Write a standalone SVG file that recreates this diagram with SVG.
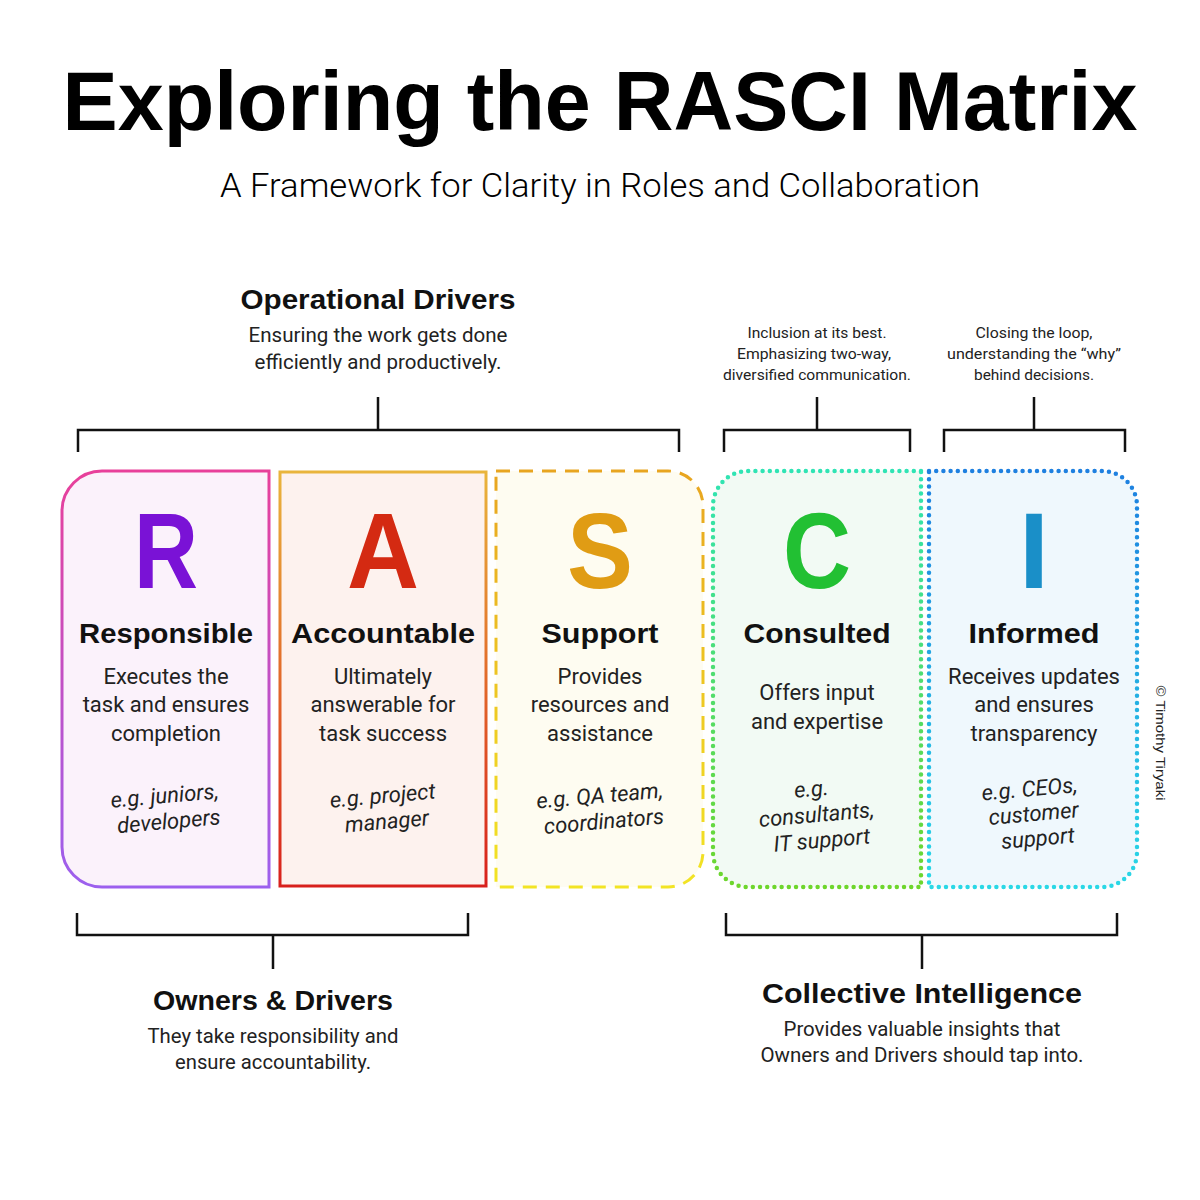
<svg xmlns="http://www.w3.org/2000/svg" width="1200" height="1200" viewBox="0 0 1200 1200">
<style>
.title{font-family:"Liberation Sans",Arial,sans-serif;font-weight:bold;fill:#000;text-anchor:middle}
.sub{font-family:Roboto,"Liberation Sans",sans-serif;font-weight:300;fill:#000;text-anchor:middle}
.h{font-family:"Liberation Sans",Arial,sans-serif;font-weight:bold;font-size:28px;fill:#111;text-anchor:middle}
.gh{font-family:"Liberation Sans",Arial,sans-serif;font-weight:bold;font-size:27px;fill:#111;text-anchor:middle}
.b{font-family:Roboto,"Liberation Sans",sans-serif;font-size:22px;fill:#222;text-anchor:middle}
.gb{font-family:Roboto,"Liberation Sans",sans-serif;font-size:20px;fill:#222;text-anchor:middle}
.s{font-family:Roboto,"Liberation Sans",sans-serif;font-size:15px;fill:#222;text-anchor:middle}
.i{font-family:Roboto,"Liberation Sans",sans-serif;font-style:italic;font-size:22px;fill:#222;text-anchor:middle}
.big{font-family:"Liberation Sans",Arial,sans-serif;font-weight:bold;font-size:108px;text-anchor:middle}
.br{fill:none;stroke:#111;stroke-width:2.5}
.box{stroke-width:3}
.dot{stroke-width:4.5;stroke-dasharray:0 7.2;stroke-linecap:round}
</style>
<defs>
<linearGradient id="gR" gradientUnits="userSpaceOnUse" x1="0" y1="471" x2="0" y2="887"><stop offset="0" stop-color="#e8409a"/><stop offset="1" stop-color="#9c60ee"/></linearGradient>
<linearGradient id="gA" gradientUnits="userSpaceOnUse" x1="0" y1="471" x2="0" y2="887"><stop offset="0" stop-color="#e9b53c"/><stop offset="0.5" stop-color="#e26a2a"/><stop offset="1" stop-color="#d8201c"/></linearGradient>
<linearGradient id="gS" gradientUnits="userSpaceOnUse" x1="0" y1="471" x2="0" y2="887"><stop offset="0" stop-color="#e8a520"/><stop offset="1" stop-color="#f2e424"/></linearGradient>
<linearGradient id="gC" gradientUnits="userSpaceOnUse" x1="0" y1="471" x2="0" y2="887"><stop offset="0" stop-color="#30e4b4"/><stop offset="1" stop-color="#6ed62c"/></linearGradient>
<linearGradient id="gI" gradientUnits="userSpaceOnUse" x1="0" y1="471" x2="0" y2="887"><stop offset="0" stop-color="#1e80e0"/><stop offset="1" stop-color="#2ad8e6"/></linearGradient>
</defs>
<rect width="1200" height="1200" fill="#fff"/>

<text class="title" x="600" y="130" font-size="83" textLength="1075" lengthAdjust="spacingAndGlyphs">Exploring the RASCI Matrix</text>
<text class="sub" x="600" y="197" font-size="34" textLength="760" lengthAdjust="spacingAndGlyphs">A Framework for Clarity in Roles and Collaboration</text>

<g id="connectors">
<path class="br" d="M78 452 V430 H679 V452 M378 430 V397"/>
<path class="br" d="M724 452 V430 H910 V452 M817 430 V397"/>
<path class="br" d="M944 452 V430 H1125 V452 M1034 430 V397"/>
<path class="br" d="M77 913 V935 H468 V913 M273 935 V969"/>
<path class="br" d="M726 913 V935 H1117 V913 M922 935 V969"/>
</g>

<g id="group-operational">
<text class="gh" x="378" y="309" textLength="275" lengthAdjust="spacingAndGlyphs">Operational Drivers</text>
<text class="gb" x="378" y="342" textLength="259" lengthAdjust="spacingAndGlyphs">Ensuring the work gets done</text>
<text class="gb" x="378" y="369" textLength="247" lengthAdjust="spacingAndGlyphs">efficiently and productively.</text>
</g>
<g id="note-consulted">
<text class="s" x="817" y="338" textLength="139" lengthAdjust="spacingAndGlyphs">Inclusion at its best.</text>
<text class="s" x="814" y="359" textLength="154" lengthAdjust="spacingAndGlyphs">Emphasizing two-way,</text>
<text class="s" x="817" y="380" textLength="188" lengthAdjust="spacingAndGlyphs">diversified communication.</text>
</g>
<g id="note-informed">
<text class="s" x="1034" y="338" textLength="117" lengthAdjust="spacingAndGlyphs">Closing the loop,</text>
<text class="s" x="1034" y="359" textLength="174" lengthAdjust="spacingAndGlyphs">understanding the “why”</text>
<text class="s" x="1034" y="380" textLength="120" lengthAdjust="spacingAndGlyphs">behind decisions.</text>
</g>

<g id="node-R">
<path class="box" d="M269 471 H102 A40 40 0 0 0 62 511 V847 A40 40 0 0 0 102 887 H269 Z" fill="#fbf2fb" stroke="url(#gR)"/>
<text class="big" x="166" y="588" fill="#7a12d6" textLength="64" lengthAdjust="spacingAndGlyphs">R</text>
<text class="h" x="166" y="643" textLength="174" lengthAdjust="spacingAndGlyphs">Responsible</text>
<text class="b" x="166" y="684">Executes the</text>
<text class="b" x="166" y="712">task and ensures</text>
<text class="b" x="166" y="741">completion</text>
<g transform="rotate(-5 166 812)">
<text class="i" x="166" y="803">e.g. juniors,</text>
<text class="i" x="168" y="829">developers</text>
</g>
</g>

<g id="node-A">
<rect class="box" x="280" y="472" width="206" height="414" fill="#fdf2ee" stroke="url(#gA)"/>
<text class="big" x="383" y="588" fill="#d42a12" textLength="72" lengthAdjust="spacingAndGlyphs">A</text>
<text class="h" x="383" y="643" textLength="184" lengthAdjust="spacingAndGlyphs">Accountable</text>
<text class="b" x="383" y="684">Ultimately</text>
<text class="b" x="383" y="712">answerable for</text>
<text class="b" x="383" y="741">task success</text>
<g transform="rotate(-5 384 812)">
<text class="i" x="384" y="803">e.g. project</text>
<text class="i" x="386" y="829">manager</text>
</g>
</g>

<g id="node-S">
<path class="box" d="M496 471 H668 A35 35 0 0 1 703 506 V852 A35 35 0 0 1 668 887 H496 Z" fill="#fefcf1" stroke="url(#gS)" stroke-dasharray="14 9"/>
<text class="big" x="600" y="588" fill="#e09c14" textLength="66" lengthAdjust="spacingAndGlyphs">S</text>
<text class="h" x="600" y="643" textLength="117" lengthAdjust="spacingAndGlyphs">Support</text>
<text class="b" x="600" y="684">Provides</text>
<text class="b" x="600" y="712">resources and</text>
<text class="b" x="600" y="741">assistance</text>
<g transform="rotate(-5 601 812)">
<text class="i" x="601" y="803">e.g. QA team,</text>
<text class="i" x="603" y="829">coordinators</text>
</g>
</g>

<g id="node-C">
<path class="dot" d="M921 471 H748 A35 35 0 0 0 713 506 V852 A35 35 0 0 0 748 887 H921 Z" fill="#f2faf4" stroke="url(#gC)"/>
<text class="big" x="817" y="588" fill="#22c033" textLength="68" lengthAdjust="spacingAndGlyphs">C</text>
<text class="h" x="817" y="643" textLength="147" lengthAdjust="spacingAndGlyphs">Consulted</text>
<text class="b" x="817" y="700">Offers input</text>
<text class="b" x="817" y="729">and expertise</text>
<g transform="rotate(-5 817 820)">
<text class="i" x="814" y="796">e.g.</text>
<text class="i" x="817" y="822">consultants,</text>
<text class="i" x="820" y="848">IT support</text>
</g>
</g>

<g id="node-I">
<path class="dot" d="M929 471 H1102 A35 35 0 0 1 1137 506 V852 A35 35 0 0 1 1102 887 H929 Z" fill="#eff8fd" stroke="url(#gI)"/>
<text class="big" x="1034" y="588" fill="#1a8fc8">I</text>
<text class="h" x="1034" y="643" textLength="131" lengthAdjust="spacingAndGlyphs">Informed</text>
<text class="b" x="1034" y="684">Receives updates</text>
<text class="b" x="1034" y="712">and ensures</text>
<text class="b" x="1034" y="741">transparency</text>
<g transform="rotate(-5 1034 818)">
<text class="i" x="1032" y="796">e.g. CEOs,</text>
<text class="i" x="1034" y="821">customer</text>
<text class="i" x="1036" y="846">support</text>
</g>
</g>

<text x="1156" y="743" font-family="Liberation Sans,Arial,sans-serif" font-size="13.5" fill="#222" text-anchor="middle" transform="rotate(90 1156 743)" textLength="115" lengthAdjust="spacingAndGlyphs">© Timothy Tiryaki</text>

<g id="group-owners">
<text class="gh" x="273" y="1010" textLength="240" lengthAdjust="spacingAndGlyphs">Owners &amp; Drivers</text>
<text class="gb" x="273" y="1043" textLength="251" lengthAdjust="spacingAndGlyphs">They take responsibility and</text>
<text class="gb" x="273" y="1069" textLength="196" lengthAdjust="spacingAndGlyphs">ensure accountability.</text>
</g>
<g id="group-collective">
<text class="gh" x="922" y="1003" textLength="320" lengthAdjust="spacingAndGlyphs">Collective Intelligence</text>
<text class="gb" x="922" y="1036" textLength="277" lengthAdjust="spacingAndGlyphs">Provides valuable insights that</text>
<text class="gb" x="922" y="1062" textLength="323" lengthAdjust="spacingAndGlyphs">Owners and Drivers should tap into.</text>
</g>
</svg>
